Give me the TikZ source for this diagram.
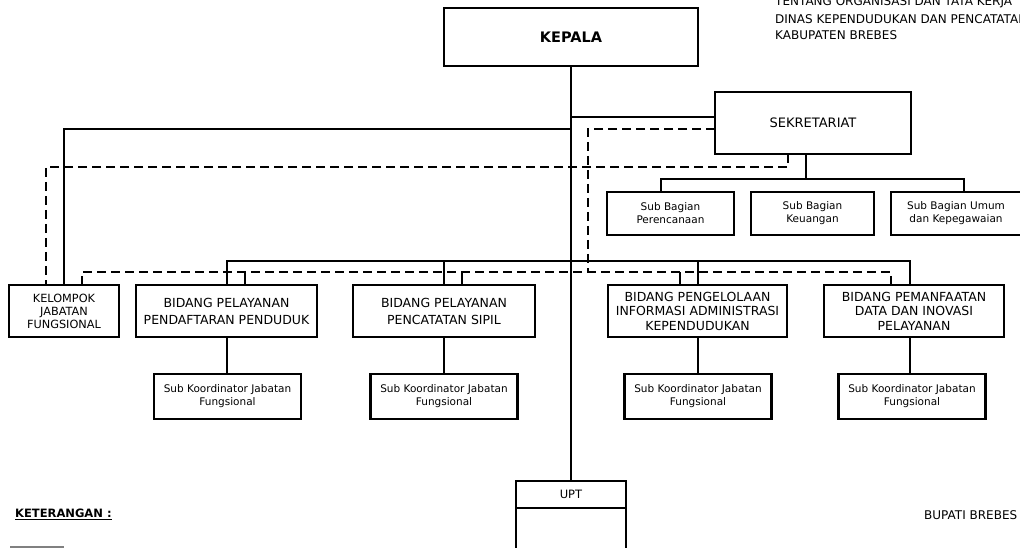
\documentclass[tikz,border=0pt]{standalone}
\usepackage{fontspec}
\setmainfont{DejaVu Sans}
\begin{document}
\begin{tikzpicture}[x=1pt,y=-1pt,line join=miter]
\useasboundingbox (0,0) rectangle (1020,548);
\clip (0,0) rectangle (1020,548);
\tikzset{
  box/.style={draw,line width=2.4pt,inner sep=0pt,outer sep=0pt,align=center},
  bid/.style={box,minimum height=52pt,font=\fontsize{12.5}{17}\selectfont},
  bidt/.style={box,minimum height=52pt,font=\fontsize{12.5}{14.5}\selectfont},
  subb/.style={box,minimum height=43pt,font=\fontsize{10.5}{13}\selectfont},
  subk/.style={box,minimum height=45pt,minimum width=147pt,font=\fontsize{10.5}{13}\selectfont},
  conn/.style={line width=2pt},
  dsh/.style={line width=2pt,dash pattern=on 9pt off 5pt},
  txt/.style={anchor=west,inner sep=0pt,font=\fontsize{12}{15}\selectfont}
}
% boxes
\node[box,minimum width=254pt,minimum height=58pt,font=\bfseries\fontsize{14.5}{17}\selectfont] (kepala) at (571,37) {KEPALA};
\node[box,minimum width=196pt,minimum height=62pt,font=\fontsize{13}{16}\selectfont] (sek) at (813,123) {SEKRETARIAT};
\node[subb,minimum width=127pt] (sb1) at (670.5,213.5) {Sub Bagian\\Perencanaan};
\node[subb,minimum width=123pt] (sb2) at (812.5,213.5) {Sub Bagian\\Keuangan};
\node[subb,minimum width=130pt] (sb3) at (956,213.5) {Sub Bagian Umum\\dan Kepegawaian};
\node[box,minimum width=110pt,minimum height=52pt,font=\fontsize{11.3}{13}\selectfont] (kel) at (64,311) {KELOMPOK\\JABATAN\\FUNGSIONAL};
\node[bid,minimum width=181pt] (b1) at (226.5,311) {BIDANG PELAYANAN\\PENDAFTARAN PENDUDUK};
\node[bid,minimum width=182pt] (b2) at (444,311) {BIDANG PELAYANAN\\PENCATATAN SIPIL};
\node[bidt,minimum width=179pt] (b3) at (697.5,311) {BIDANG PENGELOLAAN\\INFORMASI ADMINISTRASI\\KEPENDUDUKAN};
\node[bidt,minimum width=180pt] (b4) at (914,311) {BIDANG PEMANFAATAN\\DATA DAN INOVASI\\PELAYANAN};
\node[subk] (sk1) at (227.5,396.5) {Sub Koordinator Jabatan\\Fungsional};
\node[subk] (sk2) at (444,396.5) {Sub Koordinator Jabatan\\Fungsional};
\node[subk] (sk3) at (698,396.5) {Sub Koordinator Jabatan\\Fungsional};
\node[subk] (sk4) at (912,396.5) {Sub Koordinator Jabatan\\Fungsional};
\node[box,minimum width=110pt,minimum height=27pt,font=\fontsize{11.5}{14}\selectfont] (upt) at (571,494.5) {UPT};
\node[box,minimum width=110pt,minimum height=60pt,anchor=north] (uptb) at (upt.south) {};
% texts
\node[txt] (h1) at (775,2) {TENTANG ORGANISASI DAN TATA KERJA};
\node[txt] (h2) at (775,19.5) {DINAS KEPENDUDUKAN DAN PENCATATAN SIPIL};
\node[txt] (h3) at (775,35) {KABUPATEN BREBES};
\node[anchor=west,inner sep=0pt,font=\bfseries\fontsize{11.5}{14}\selectfont] (ket) at (15,514) {\underline{KETERANGAN :}};
\node[txt] (bup) at (924,515) {BUPATI BREBES};
\draw[gray,line width=1.5pt] (10,547) -- (64,547);
% solid connectors
\coordinate (j1) at (571,117);
\coordinate (j2) at (571,129);
\coordinate (bus) at (571,261);
\coordinate (x910) at (910,0);
\coordinate (sbus) at (806,179);
\coordinate (sbl) at (661,179);
\coordinate (sbr) at (964,179);
\draw[conn] (kepala.south) -- (upt.north);
\draw[conn] (j1) -- (j1 -| sek.west);
\draw[conn] (j2) -| (kel.north);
\draw[conn] (b1.north) |- (bus) -| (x910 |- b4.north);
\draw[conn] (b2.north) -- (b2.north |- bus);
\draw[conn] (b3.north) -- (b3.north |- bus);
\draw[conn] (b1.south) -- (b1.south |- sk1.north);
\draw[conn] (b2.south) -- (b2.south |- sk2.north);
\draw[conn] (b3.south) -- (b3.south |- sk3.north);
\draw[conn] (x910 |- b4.south) -- (x910 |- sk4.north);
\draw[conn] (sbus |- sek.south) -- (sbus);
\draw[conn] (sbl |- sb1.north) -- (sbl) -- (sbr) -- (sbr |- sb3.north);
% dashed connectors
\coordinate (d1) at (588,129);
\coordinate (d1b) at (588,272);
\draw[dsh] (d1 -| sek.west) -- (d1) -- (d1b);
\coordinate (d2a) at (788,167);
\coordinate (d2b) at (46,167);
\draw[dsh] (d2a |- sek.south) -- (d2a) -- (d2b) -- (d2b |- kel.north);
\coordinate (d3l) at (82,272);
\coordinate (d3r) at (891,272);
\draw[dsh] (d3l |- kel.north) -- (d3l) -- (d3r) -- (d3r |- b4.north);
\coordinate (t1) at (245,272);
\coordinate (t2) at (462,272);
\coordinate (t3) at (680,272);
\draw[conn] (t1) -- (t1 |- b1.north);
\draw[conn] (t2) -- (t2 |- b2.north);
\draw[conn] (t3) -- (t3 |- b3.north);
\end{tikzpicture}
\end{document}
